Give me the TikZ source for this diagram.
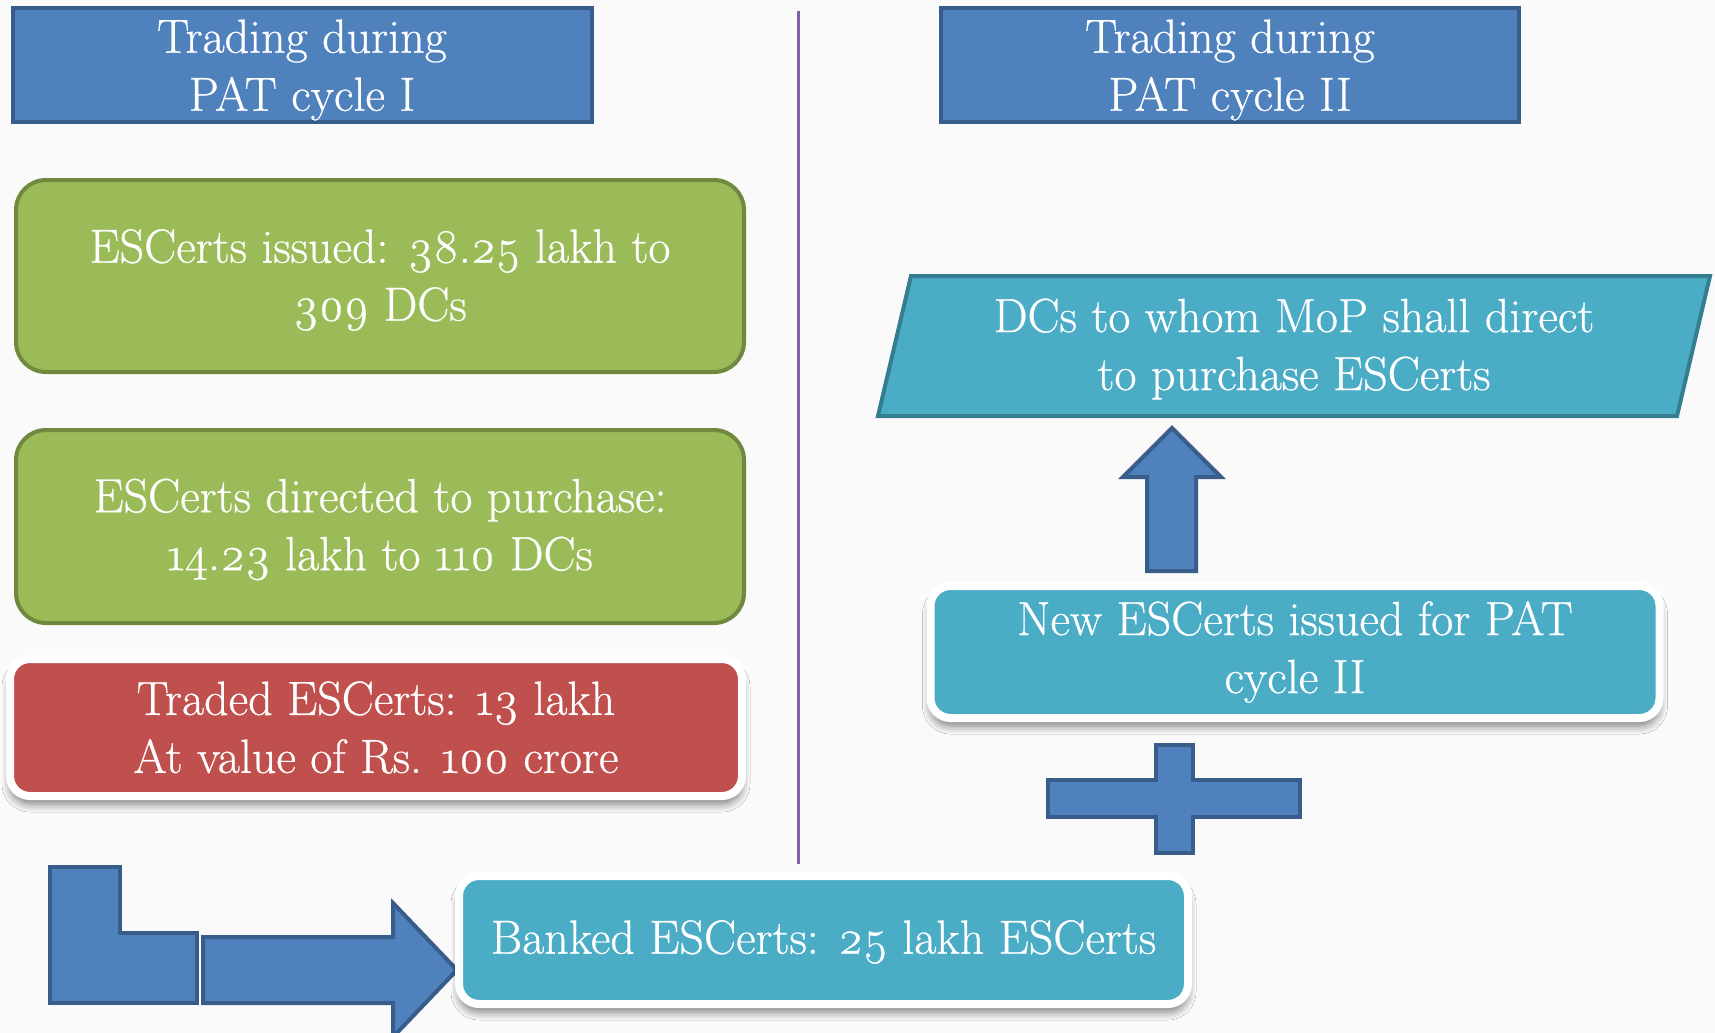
\documentclass[tikz,border=0pt]{standalone}
\usepackage{fontspec}
\setmainfont{Latin Modern Roman}[Numbers=OldStyle, FakeBold=0.6]
\usetikzlibrary{shadows.blur}
\definecolor{bgc}{HTML}{FAFAFA}
\definecolor{hdrF}{HTML}{4F81BD}
\definecolor{hdrB}{HTML}{385D8A}
\definecolor{grnF}{HTML}{9BBB59}
\definecolor{grnB}{HTML}{71893F}
\definecolor{redF}{HTML}{C0504D}
\definecolor{cyanF}{HTML}{4BACC6}
\definecolor{cyanB}{HTML}{357D91}
\definecolor{purp}{HTML}{8064A2}
\newcommand{\boxfont}{\fontsize{24}{29}\selectfont}
\tikzset{
  txt/.style={text=white, align=center, font=\boxfont, inner sep=0pt},
  hdr/.style={draw=hdrB, fill=hdrF, line width=2pt},
  grn/.style={txt, draw=grnB, fill=grnF, line width=2pt, rounded corners=15pt},
  wb/.style={txt, draw=white, line width=4pt, rounded corners=10pt,
    blur shadow={shadow xshift=0pt, shadow yshift=-4pt, shadow blur steps=8, shadow blur radius=4pt, shadow opacity=50}},
  blk/.style={draw=hdrB, fill=hdrF, line width=2pt, line join=miter},
  para/.style={draw=cyanB, fill=cyanF, line width=2pt, line join=miter},
  divider/.style={draw=purp, line width=1.5pt}
}
\begin{document}
\begin{tikzpicture}[x=0.5pt,y=-0.5pt]
\fill[bgc] (0,0) rectangle (1715,1033);
\useasboundingbox (0,0) rectangle (1715,1033);
% divider
\coordinate (dtop) at (798,11);
\coordinate (dbot) at (798,864);
\draw[divider] (dtop) -- (dbot);
% headers
\node[hdr, minimum width=289.5pt, minimum height=57pt] (h1) at (302,65) {};
\node[txt] (h1t) at ([yshift=-2.5pt]h1.center) {Trading during\\PAT cycle I};
\node[hdr, minimum width=289pt, minimum height=57pt] (h2) at (1230,65) {};
\node[txt] (h2t) at ([yshift=-2.5pt]h2.center) {Trading during\\PAT cycle II};
% left boxes
\node[grn, minimum width=364pt, minimum height=96pt] (g1) at (380,276) {};
\node[txt] (g1t) at ([yshift=-2pt]g1.center) {ESCerts issued: 38.25 lakh to\\309 DCs};
\node[grn, minimum width=364pt, minimum height=96.5pt] (g2) at (380,526.5) {};
\node[txt] (g2t) at ([yshift=-1.5pt]g2.center) {ESCerts directed to purchase:\\14.23 lakh to 110 DCs};
\node[wb, fill=redF, minimum width=366pt, minimum height=68.5pt] (r) at (376,727.5) {Traded ESCerts: 13 lakh\\At value of Rs. 100 crore};
% parallelogram
\filldraw[para] (911,276) -- (1710,276) -- (1677,416) -- (878,416) -- cycle;
\node[txt] (p) at (1294,349) {DCs to whom MoP shall direct\\to purchase ESCerts};
% up arrow
\filldraw[blk] (1172,428) -- (1221,477) -- (1196,477) -- (1196,571) -- (1147,571) -- (1147,477) -- (1123,477) -- cycle;
% new box
\node[wb, fill=cyanF, minimum width=364.5pt, minimum height=66pt] (n) at (1295,652) {New ESCerts issued for PAT\\cycle II};
% plus
\filldraw[blk] (1156,745) -- (1193,745) -- (1193,780) -- (1300,780) -- (1300,817) -- (1193,817) -- (1193,853) -- (1156,853) -- (1156,817) -- (1048,817) -- (1048,780) -- (1156,780) -- cycle;
% bent shape and right arrow
\filldraw[blk] (50,867) -- (120,867) -- (120,933) -- (197,933) -- (197,1003) -- (50,1003) -- cycle;
\filldraw[blk] (203,937) -- (393,937) -- (393,903) -- (457,970) -- (393,1037) -- (393,1003) -- (203,1003) -- cycle;
% banked
\node[wb, fill=cyanF, minimum width=364.5pt, minimum height=64pt] (b) at (823.5,940) {};
\node[txt] (bt) at ([yshift=-1pt]b.center) {Banked ESCerts: 25 lakh ESCerts};
\end{tikzpicture}
\end{document}
